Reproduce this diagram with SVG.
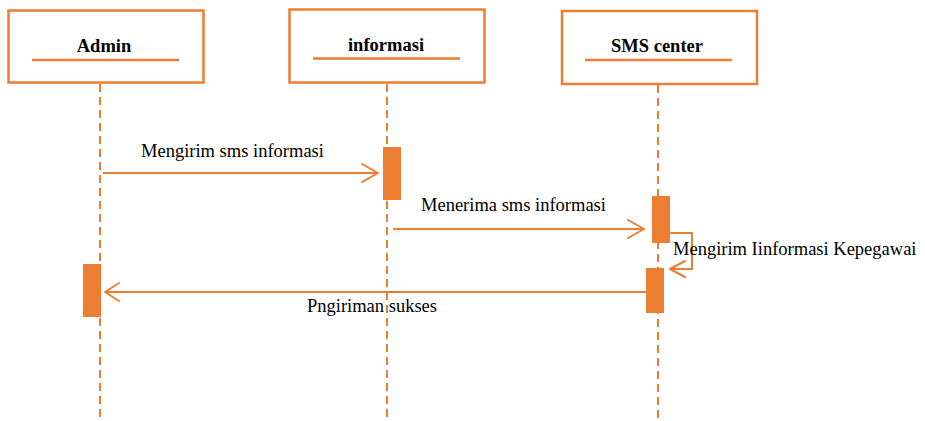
<svg xmlns="http://www.w3.org/2000/svg" width="925" height="421" viewBox="0 0 925 421">
  <defs>
    <style>
      .box { fill: #ffffff; stroke: #ED7D31; stroke-width: 2.5; }
      .uline { stroke: #ED7D31; stroke-width: 2.5; }
      .life { stroke: #ED7D31; stroke-width: 2; stroke-dasharray: 8 5; fill: none; }
      .act { fill: #ED7D31; }
      .msg { stroke: #ED7D31; stroke-width: 2; fill: none; }
      .head { stroke: #ED7D31; stroke-width: 2; fill: none; stroke-linecap: round; stroke-linejoin: round; }
      .title { font-family: "Liberation Serif", "Times New Roman", serif; font-weight: bold; font-size: 18.5px; fill: #000000; text-anchor: middle; }
      .label { font-family: "Liberation Serif", "Times New Roman", serif; font-size: 18.5px; fill: #000000; }
    </style>
  </defs>
  <rect width="925" height="421" fill="#ffffff"/>

  <!-- lifelines -->
  <g id="lifelines">
    <line class="life" x1="100" y1="84" x2="100" y2="421"/>
    <line class="life" x1="387" y1="84" x2="387" y2="421"/>
    <line class="life" x1="658" y1="85" x2="658" y2="421"/>
  </g>

  <!-- participants -->
  <g id="admin">
    <rect class="box" x="8.5" y="10.5" width="195" height="72"/>
    <line class="uline" x1="32" y1="60" x2="179" y2="60"/>
    <text class="title" x="104" y="52">Admin</text>
    <rect class="act" x="83" y="264" width="18" height="53"/>
  </g>
  <g id="informasi">
    <rect class="box" x="289.5" y="9.5" width="195" height="73"/>
    <line class="uline" x1="313" y1="58.5" x2="460" y2="58.5"/>
    <text class="title" x="386" y="51">informasi</text>
    <rect class="act" x="383" y="147" width="18" height="53"/>
  </g>
  <g id="sms-center">
    <rect class="box" x="562" y="11" width="195" height="73"/>
    <line class="uline" x1="585" y1="60" x2="732" y2="60"/>
    <text class="title" x="657" y="52">SMS center</text>
    <rect class="act" x="652" y="196" width="18" height="47"/>
    <rect class="act" x="646" y="268" width="18" height="45"/>
  </g>

  <!-- messages -->
  <g id="connectors">
    <line class="msg" x1="103" y1="173" x2="378" y2="173"/>
    <polyline class="head" points="362,164 378,173 362,182"/>

    <line class="msg" x1="393" y1="229" x2="644" y2="229"/>
    <polyline class="head" points="628,220 644,229 628,238"/>

    <polyline class="msg" points="670,233 692,233 692,269 670,269"/>
    <polyline class="head" points="685,261 670,269 685,277"/>

    <line class="msg" x1="646" y1="292" x2="105" y2="292"/>
    <polyline class="head" points="119,283 105,292 119,301"/>
  </g>

  <!-- message labels -->
  <g id="labels">
    <text class="label" x="141" y="157">Mengirim sms informasi</text>
    <text class="label" x="421" y="211">Menerima sms informasi</text>
    <text class="label" x="673" y="255">Mengirim Iinformasi Kepegawai</text>
    <text class="label" x="307" y="312">Pngiriman sukses</text>
  </g>
</svg>
